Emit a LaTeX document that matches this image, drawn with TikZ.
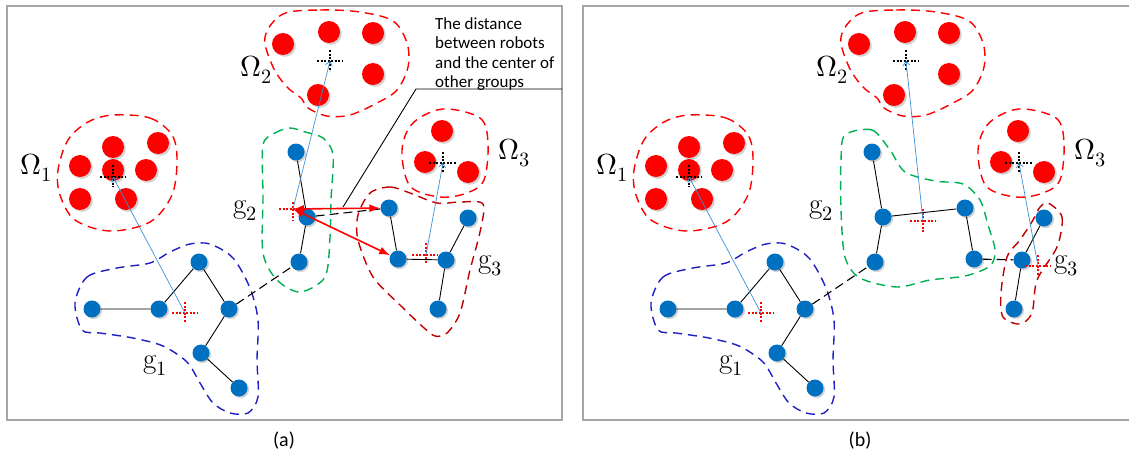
\documentclass[tikz,border=0pt]{standalone}
\usepackage{fontspec}
\usepackage{unicode-math}
\setmathfont{Latin Modern Math}
\newfontfamily\calib{Carlito}
\usetikzlibrary{arrows.meta,shadows}
\definecolor{robotblue}{HTML}{0070C0}
\definecolor{omegared}{HTML}{FF0000}
\definecolor{gonecol}{HTML}{1F1FC8}
\definecolor{gtwocol}{HTML}{00B050}
\definecolor{gthreecol}{HTML}{C00000}
\definecolor{arrowblue}{HTML}{3D8FD8}
\definecolor{framegray}{HTML}{A6A6A6}
\tikzset{
  robot/.style={circle, fill=robotblue, minimum size=17pt, inner sep=0pt,
    drop shadow={shadow xshift=1.6pt, shadow yshift=-1.6pt, opacity=0.35}},
  target/.style={circle, fill=omegared, minimum size=22pt, inner sep=0pt,
    drop shadow={shadow xshift=1.8pt, shadow yshift=-1.8pt, opacity=0.35}},
  blob/.style={line width=1.4pt, dash pattern=on 9pt off 6pt},
  link/.style={black, line width=0.9pt},
  dlink/.style={black, line width=1.1pt, dash pattern=on 9pt off 5pt},
  blackcross/.style={black, line width=1.3pt, dash pattern=on 2pt off 1.5pt},
  redcross/.style={omegared, line width=1.1pt, dash pattern=on 2pt off 1.5pt},
  toarrow/.style={arrowblue, line width=0.7pt, -{Straight Barb[length=4pt,width=7pt]}},
  redarrow/.style={omegared, line width=1.6pt, {Latex[length=11pt,width=8pt]}-{Latex[length=11pt,width=8pt]}},
  lab/.style={font=\fontsize{29}{33}\selectfont, inner sep=0pt, anchor=base},
  notetext/.style={font=\calib\fontsize{17}{19.5}\selectfont, align=left, inner sep=0pt},
  captext/.style={font=\calib\fontsize{20}{24}\selectfont, inner sep=0pt},
  frame/.style={framegray, line width=1.3pt},
  leader/.style={black, line width=0.9pt}
}
\newcommand\sharedblobs{%
  \draw[blob,omegared] plot[smooth cycle,tension=0.55] coordinates {(113,115) (150,118) (172,135) (177,160) (172,195) (150,222) (110,231) (75,220) (60,195) (58,170) (68,140) (88,122)};
  \draw[blob,omegared] plot[smooth cycle,tension=0.55] coordinates {(283,14) (320,10) (360,12) (393,21) (407,43) (408,67) (397,90) (377,103) (350,115) (327,116) (308,108) (301,98) (287,87) (273,67) (265,37)};
  \draw[blob,omegared] plot[smooth cycle,tension=0.55] coordinates {(443,109) (480,118) (488,143) (484,180) (467,193) (440,197) (410,186) (402,150) (413,123)};
  \draw[blob,gonecol] plot[smooth cycle,tension=0.5] coordinates {(75,303) (87,277) (117,268) (150,263) (170,252) (190,244) (210,244) (233,258) (250,288) (258,320) (257,360) (258,397) (248,413) (230,413) (213,403) (200,383) (187,362) (163,346) (133,338) (100,333) (82,330)};
}
\newcommand\sharedrobots{%
  \node[target] (a1) at (113,147) {};
  \node[target] (a2) at (158,143) {};
  \node[target] (a3) at (80,166) {};
  \node[target] (a4) at (113,170) {};
  \node[target] (a5) at (146,170) {};
  \node[target] (a6) at (80,199) {};
  \node[target] (a7) at (126,199) {};
  \node[target] (b1) at (283,44) {};
  \node[target] (b2) at (329,32) {};
  \node[target] (b3) at (373,33) {};
  \node[target] (b4) at (373,74) {};
  \node[target] (b5) at (318,95) {};
  \node[target] (c1) at (442,131) {};
  \node[target] (c2) at (425,162) {};
  \node[target] (c3) at (468,172) {};
  \node[robot] (u1) at (92,309) {};
  \node[robot] (u2) at (159,309) {};
  \node[robot] (u3) at (199,262) {};
  \node[robot] (u4) at (229,309) {};
  \node[robot] (u5) at (201,353) {};
  \node[robot] (u6) at (239,388) {};
  \node[robot] (v1) at (296,152) {};
  \node[robot] (v2) at (307,217) {};
  \node[robot] (v3) at (299,262) {};
  \node[robot] (w1) at (389,208) {};
  \node[robot] (w2) at (398,259) {};
  \node[robot] (w3) at (446,260) {};
  \node[robot] (w4) at (468,218) {};
  \node[robot] (w5) at (438,309) {};
  \draw[link] (u1)--(u2) (u2)--(u3) (u3)--(u4) (u4)--(u5) (u5)--(u6);
  \draw[link] (v1)--(v2) (v2)--(v3) (w1)--(w2) (w3)--(w4) (w3)--(w5);
  \draw[dlink] (u4)--(v3);
  \coordinate (O1c) at (113,177);
  \coordinate (O2c) at (330,61);
  \coordinate (O3c) at (443,163);
  \coordinate (G1c) at (185,313);
  \draw[blackcross] (O1c) +(-13,0) -- +(13,0) (O1c) +(0,-12) -- +(0,10);
  \draw[blackcross] (O2c) +(-13,0) -- +(13,0) (O2c) +(0,-11) -- +(0,10);
  \draw[blackcross] (O3c) +(-14,0) -- +(13,0) (O3c) +(0,-11) -- +(0,10);
  \draw[redcross] (G1c) +(-13,0) -- +(12,0) (G1c) +(0,-11) -- +(0,10);
  \draw[toarrow] (G1c) -- (O1c);
  \node[lab] (L1) at (36.5,174) {$\Omega_1$};
  \node[lab] (L2) at (256,76) {$\Omega_2$};
  \node[lab] (L3) at (514,159) {$\Omega_3$};
  \node[lab] (L4) at (155,368) {$\mathrm{g}_1$};
  \node[lab] (L5) at (245,213) {$\mathrm{g}_2$};
  \node[lab] (L6) at (490,268) {$\mathrm{g}_3$};
}
\begin{document}
\begin{tikzpicture}[x=1pt,y=-1pt]
\useasboundingbox (0,0) rectangle (1129,455);
\fill[white] (0,0) rectangle (1129,455);
\draw[frame] (7,6) rectangle (562,420);
\draw[frame] (1135,6) -- (583,6) -- (583,420) -- (1135,420);
% panel (a)
\begin{scope}[name prefix=a-]
  \sharedblobs
  \draw[blob,gtwocol] plot[smooth cycle,tension=0.5] coordinates {(263,145) (275,133) (290,128) (305,132) (323,138) (333,155) (331,200) (330,237) (325,277) (300,292) (277,280) (263,253) (263,197)};
  \draw[blob,gthreecol] plot[smooth cycle,tension=0.5] coordinates {(370,193) (390,187) (410,193) (437,203) (460,202) (483,204) (480,232) (470,270) (460,313) (447,333) (435,336) (423,327) (400,305) (373,277) (358,240) (358,215)};
  \sharedrobots
  \draw[link] (w2)--(w3);
  \draw[dlink] (v2)--(w1);
  \coordinate (G2c) at (293,209);
  \coordinate (G3c) at (426,255);
  \draw[redcross] (G2c) +(-14,0) -- +(12,0) (G2c) +(0,-7) -- +(0,11);
  \draw[redcross] (G3c) +(-14,0) -- +(12,0) (G3c) +(0,-12) -- +(0,8);
  \draw[toarrow] (G2c) -- (O2c);
  \draw[toarrow] (G3c) -- (O3c);
  \draw[redarrow] (G2c) -- (w1);
  \draw[redarrow] (G2c) -- (w2);
  \node[notetext, anchor=north west] (note) at (435,17) {The distance\\between robots\\and the center of\\other groups};
  \coordinate (ptr) at (343,207);
  \coordinate (knee) at (416,89);
  \coordinate (rim) at (562,89);
  \draw[leader] (ptr) -- (knee) -- (rim);
\end{scope}
% panel (b)
\begin{scope}[xshift=576pt, name prefix=b-]
  \sharedblobs
  \draw[blob,gtwocol] plot[smooth cycle,tension=0.5] coordinates {(269,135) (296,130) (314,150) (329,172) (359,181) (387,184) (404,200) (412,225) (419,250) (414,266) (389,276) (354,280) (321,287) (284,278) (269,257) (265,210) (265,160)};
  \draw[blob,gthreecol] plot[smooth cycle,tension=0.5] coordinates {(472,203) (486,217) (481,247) (461,280) (456,313) (444,324) (427,317) (425,293) (431,257) (444,240) (457,220) (464,207)};
  \sharedrobots
  \draw[link] (v2)--(w1);
  \draw[dlink] (w2)--(w3);
  \coordinate (G2c) at (347,221);
  \coordinate (G3c) at (462,266);
  \draw[redcross] (G2c) +(-13,0) -- +(13,0) (G2c) +(0,-12) -- +(0,11);
  \draw[redcross] (G3c) +(-13,0) -- +(12,0) (G3c) +(0,-11) -- +(0,9);
  \draw[toarrow] (G2c) -- (O2c);
  \draw[toarrow] (G3c) -- (O3c);
\end{scope}
\node[captext] (capa) at (284,441) {(a)};
\node[captext] (capb) at (860,441) {(b)};
\end{tikzpicture}
\end{document}
